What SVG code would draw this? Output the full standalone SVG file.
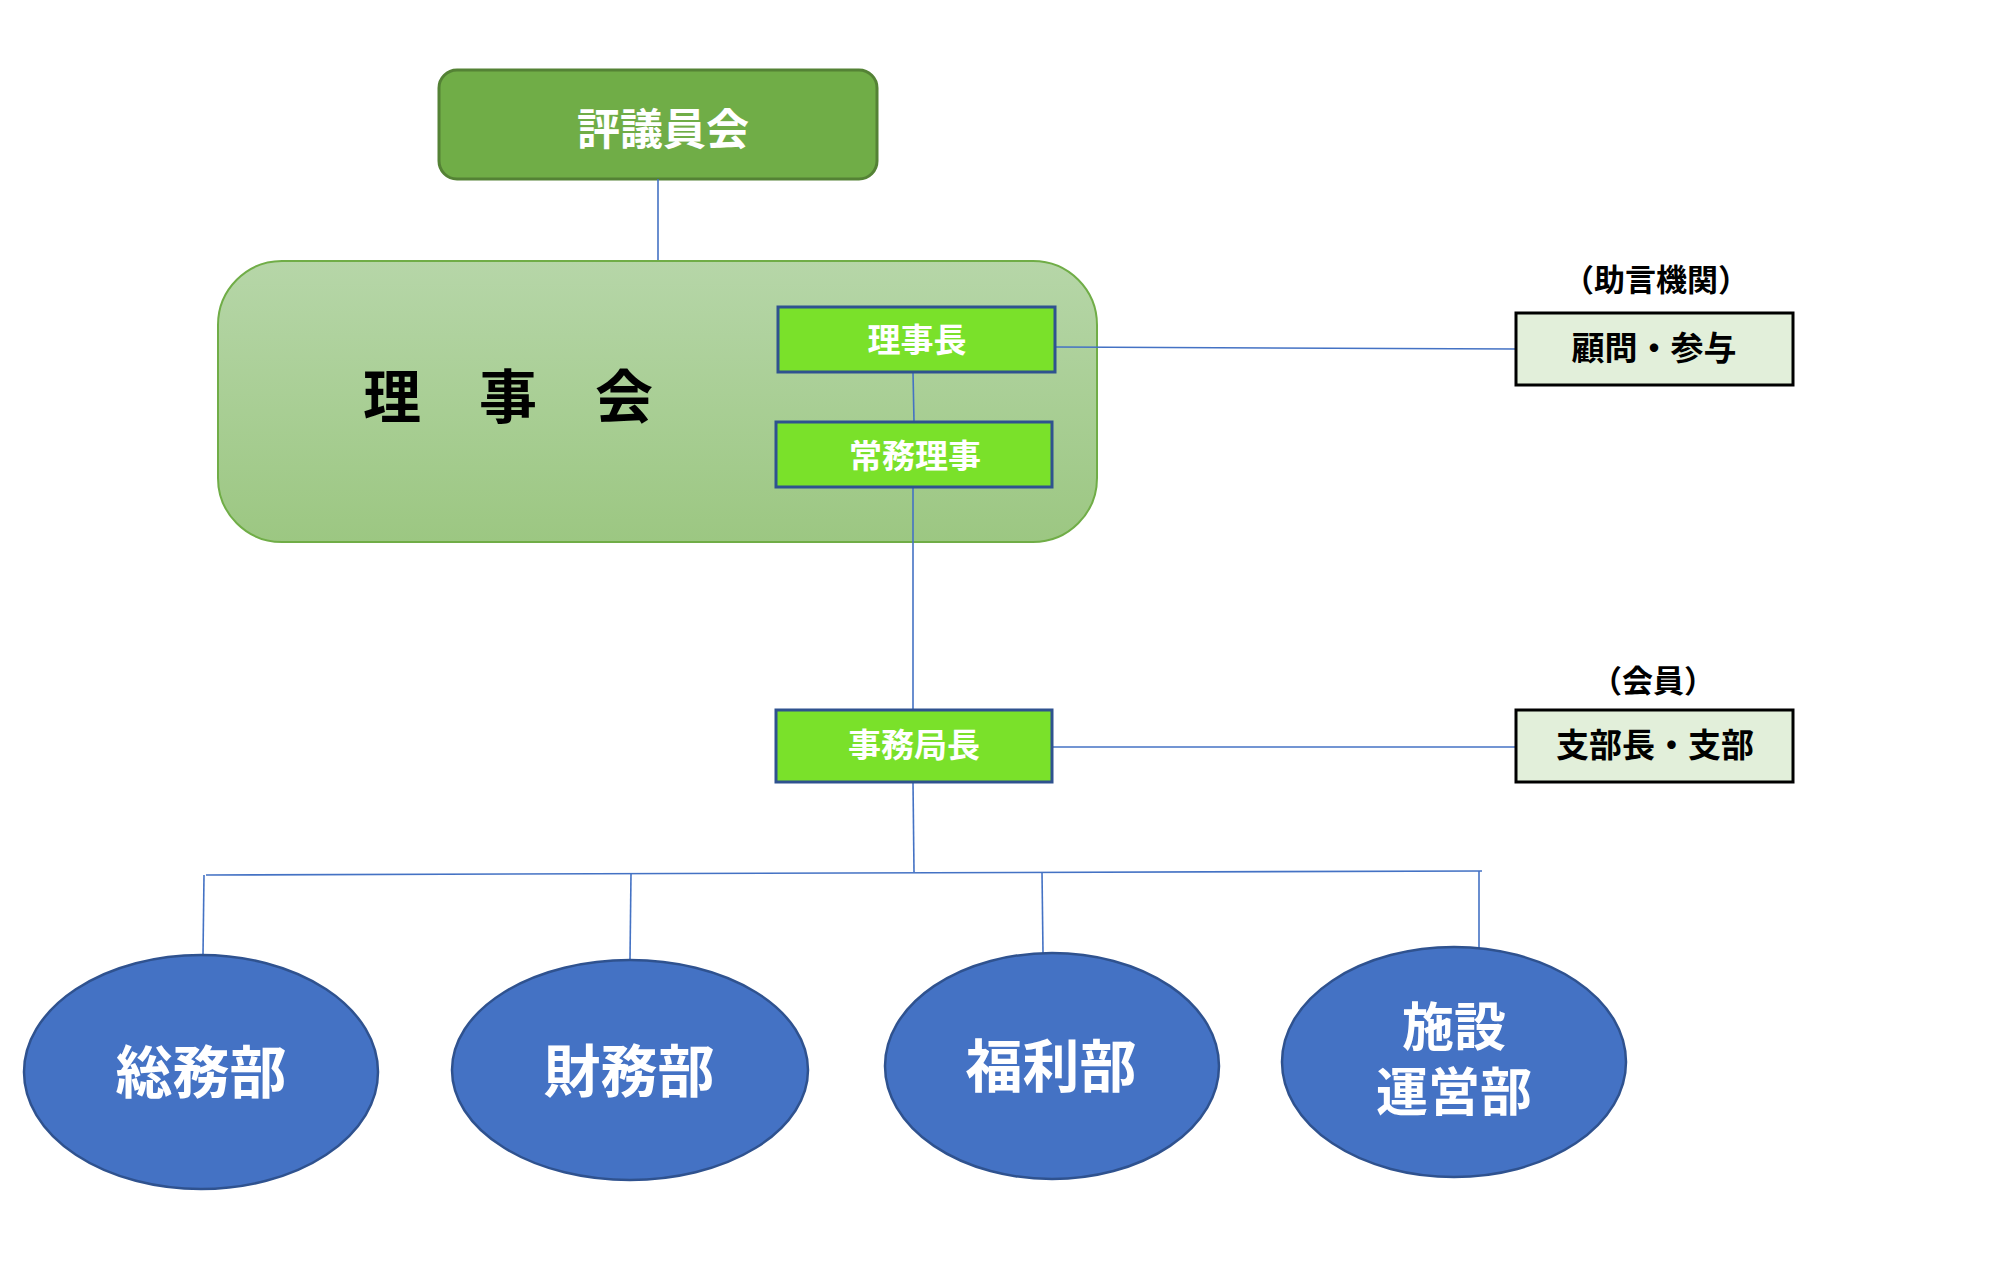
<svg xmlns="http://www.w3.org/2000/svg" width="2000" height="1278" viewBox="0 0 2000 1278">
<style>
text{font-family:"Liberation Serif","Noto Sans CJK JP",serif;text-anchor:middle}
.w{fill:#ffffff;font-weight:700}
.k{fill:#000000;font-weight:700}
.g{fill:#000000;font-family:"Liberation Sans","Noto Sans CJK JP",sans-serif;font-weight:700}
.conn{stroke:#4472C4;stroke-width:1.6;fill:none}
.gr{fill:#7AE12A;stroke:#2F528F;stroke-width:3}
.pale{fill:#E2EFDA;stroke:#000000;stroke-width:3}
.dept{fill:#4472C4;stroke:#2F528F;stroke-width:2.5}
</style>
<defs>
<linearGradient id="rg" x1="0" y1="0" x2="0" y2="1">
<stop offset="0" stop-color="#B6D6A8"/>
<stop offset="1" stop-color="#9CC782"/>
</linearGradient>
</defs>
<rect width="2000" height="1278" fill="#ffffff"/>
<g id="hyogiinkai">
<rect x="439" y="70" width="438" height="109" rx="18" fill="#70AD47" stroke="#548235" stroke-width="3"/>
<text class="w" x="663" y="145" font-size="43">評議員会</text>
</g>
<g id="rijikai">
<rect x="218" y="261" width="879" height="281" rx="64" fill="url(#rg)" stroke="#70AD47" stroke-width="2"/>
<text class="k" x="508" y="418" font-size="58">理　事　会</text>
</g>
<g id="connectors">
<line class="conn" x1="658" y1="179" x2="658" y2="260"/>
<line class="conn" x1="913" y1="372" x2="914" y2="422"/>
<line class="conn" x1="913" y1="487" x2="913" y2="710"/>
<line class="conn" x1="1055" y1="347" x2="1516" y2="349"/>
<line class="conn" x1="1052" y1="747" x2="1516" y2="747"/>
<line class="conn" x1="913" y1="782" x2="914" y2="872"/>
<line class="conn" x1="206" y1="875" x2="1482" y2="871"/>
<line class="conn" x1="204" y1="875" x2="203" y2="955"/>
<line class="conn" x1="631" y1="874" x2="630" y2="959"/>
<line class="conn" x1="1042" y1="872" x2="1043" y2="953"/>
<line class="conn" x1="1479" y1="871" x2="1479" y2="948"/>
</g>
<g id="rijicho">
<rect class="gr" x="778" y="307" width="277" height="65"/>
<text class="w" x="917" y="352" font-size="33">理事長</text>
</g>
<g id="jomuriji">
<rect class="gr" x="776" y="422" width="276" height="65"/>
<text class="w" x="915" y="468" font-size="33">常務理事</text>
</g>
<g id="komon">
<text class="g" x="1656" y="291" font-size="31">（助言機関）</text>
<rect class="pale" x="1516" y="313" width="277" height="72"/>
<text class="k" x="1654" y="360" font-size="33">顧問・参与</text>
</g>
<g id="jimukyokucho">
<rect class="gr" x="776" y="710" width="276" height="72"/>
<text class="w" x="914" y="757" font-size="33">事務局長</text>
</g>
<g id="shibu">
<text class="g" x="1653" y="692" font-size="31">（会員）</text>
<rect class="pale" x="1516" y="710" width="277" height="72"/>
<text class="k" x="1655" y="757" font-size="33">支部長・支部</text>
</g>
<g id="somubu">
<ellipse class="dept" cx="201" cy="1072" rx="177" ry="117"/>
<text class="w" x="201" y="1093" font-size="57">総務部</text>
</g>
<g id="zaimubu">
<ellipse class="dept" cx="630" cy="1070" rx="178" ry="110"/>
<text class="w" x="629" y="1092" font-size="57">財務部</text>
</g>
<g id="fukuribu">
<ellipse class="dept" cx="1052" cy="1066" rx="167" ry="113"/>
<text class="w" x="1051" y="1087" font-size="57">福利部</text>
</g>
<g id="shisetsu">
<ellipse class="dept" cx="1454" cy="1062" rx="172" ry="115"/>
<text class="w" x="1454" y="1046" font-size="52">施設</text>
<text class="w" x="1454" y="1111" font-size="52">運営部</text>
</g>
</svg>
